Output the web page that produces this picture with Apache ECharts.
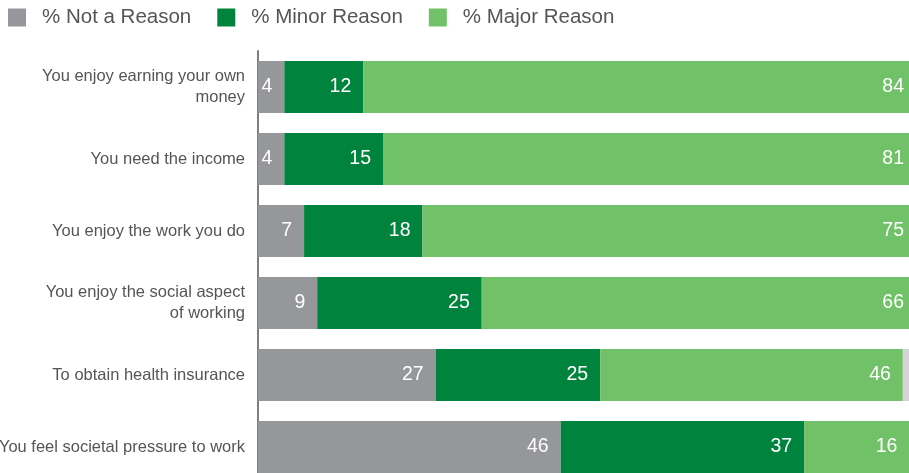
<!DOCTYPE html>
<html>
<head>
<meta charset="utf-8">
<script src="https://cdn.jsdelivr.net/npm/echarts@6/dist/echarts.min.js"></script>
<style>
html,body{margin:0;padding:0;background:#fff;overflow:hidden;}
#c{width:930px;height:500px;}
</style>
</head>
<body>
<div id="c"></div>
<script>
const categories = [
  "You enjoy earning your own\nmoney",
  "You need the income",
  "You enjoy the work you do",
  "You enjoy the social aspect\nof working",
  "To obtain health insurance",
  "You feel societal pressure to work"
];
const notReason = [4, 4, 7, 9, 27, 46];
const minorReason = [12, 15, 18, 25, 25, 37];
const majorReason = [84, 81, 75, 66, 46, 16];
const otherResp = [null, null, null, null, 2, null];
const seriesNames = ["% Not a Reason", "% Minor Reason", "% Major Reason"];

const font = "Liberation Sans, Arial, sans-serif";
const labelCfg = {
  show: true,
  position: "insideRight",
  distance: 12,
  color: "#ffffff",
  fontSize: 19.5,
  fontFamily: font
};

const chart = echarts.init(document.getElementById("c"));
chart.setOption({
  animation: false,
  legend: {
    data: seriesNames,
    left: 3,
    top: 2,
    itemWidth: 18,
    itemHeight: 18,
    itemGap: 26,
    icon: "rect",
    textStyle: { color: "#555555", fontSize: 20.5, fontFamily: font, padding: [0, 0, 0, 11] }
  },
  grid: { left: 258, top: 51, width: 658, height: 432, containLabel: false, outerBoundsMode: "none" },
  xAxis: { type: "value", min: 0, max: 100, show: false },
  yAxis: {
    type: "category",
    data: categories,
    inverse: true,
    axisLine: { show: true, lineStyle: { color: "#808080", width: 2 } },
    axisTick: { show: false },
    axisLabel: { margin: 13, color: "#555555", fontSize: 16.5, fontFamily: font, lineHeight: 21, align: "right" }
  },
  series: [
    { name: seriesNames[0], type: "bar", stack: "s", data: notReason, barWidth: 52,
      itemStyle: { color: "#96979b" }, label: labelCfg },
    { name: seriesNames[1], type: "bar", stack: "s", data: minorReason, barWidth: 52,
      itemStyle: { color: "#00843d" }, label: labelCfg },
    { name: seriesNames[2], type: "bar", stack: "s", data: majorReason, barWidth: 52,
      itemStyle: { color: "#70c167" }, label: labelCfg },
    { name: "Other", type: "bar", stack: "s", data: otherResp, barWidth: 52,
      itemStyle: { color: "#d4d4d6" }, label: { show: false } }
  ]
});
</script>
</body>
</html>
